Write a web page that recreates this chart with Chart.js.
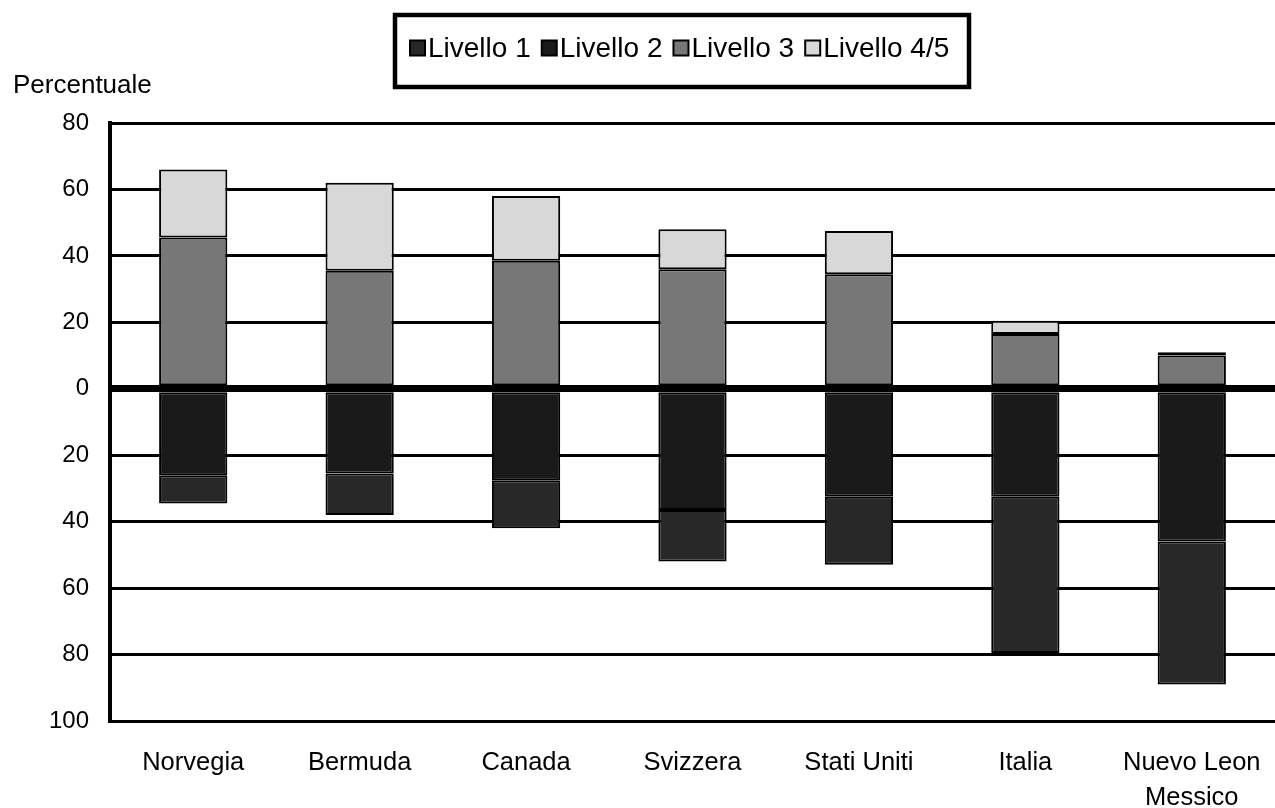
<!DOCTYPE html>
<html>
<head>
<meta charset="utf-8">
<script src="https://cdn.jsdelivr.net/npm/chart.js@4.4.1/dist/chart.umd.min.js"></script>
<style>
  html, body { margin: 0; padding: 0; background: #ffffff; }
  #wrap { width: 1275px; height: 808px; position: relative; }
</style>
</head>
<body>
<div id="wrap"><canvas id="chart" width="1275" height="808"></canvas></div>
<script>
// Countries along the horizontal axis
const categories = ['Norvegia', 'Bermuda', 'Canada', 'Svizzera', 'Stati Uniti', 'Italia', ['Nuevo Leon', 'Messico']];

// Percentages by proficiency level (levels 1 and 2 are drawn below zero)
const livello1 = [8.5, 12.5, 14.5, 15.5, 20.5, 47, 43];
const livello2 = [26, 25.5, 27.5, 36.5, 32.5, 32.5, 46];
const livello3 = [45.5, 35.5, 38.5, 36, 34.5, 16.5, 10];
const livello45 = [20.5, 26.5, 19.5, 12, 13, 4, 1];

const seriesNames = ['Livello 1', 'Livello 2', 'Livello 3', 'Livello 4/5'];
const seriesColors = ['#282828', '#1a1a1a', '#777777', '#d8d8d8'];

// Vertical axis: -100 .. 80, labelled with absolute values
const yMin = -100, yMax = 80, yStep = 20;

const FONT = '"Liberation Sans", Arial, Helvetica, sans-serif';

function barDataset(label, values, color, order, sign) {
  return {
    label: label,
    data: values.map(v => sign * v),
    backgroundColor: color,
    borderColor: '#000000',
    borderWidth: 2,
    borderSkipped: false,
    order: order,
    barPercentage: 0.41,
    categoryPercentage: 1.0
  };
}

// Stacking follows "order": level 2 sits next to zero, level 1 below it
const datasets = [
  barDataset(seriesNames[0], livello1, seriesColors[0], 2, -1),
  barDataset(seriesNames[1], livello2, seriesColors[1], 1, -1),
  barDataset(seriesNames[2], livello3, seriesColors[2], 3, 1),
  barDataset(seriesNames[3], livello45, seriesColors[3], 4, 1)
];

// Boxed legend and the axis caption
const decorations = {
  id: 'decorations',
  afterDraw(chart) {
    const ctx = chart.ctx;
    ctx.save();
    // axis caption
    ctx.fillStyle = '#000';
    ctx.font = '26px ' + FONT;
    ctx.textAlign = 'left';
    ctx.textBaseline = 'middle';
    ctx.fillText('Percentuale', 13, 86);

    // legend box
    const bx = 395, by = 15, bw = 574, bh = 72;
    ctx.lineWidth = 4.5;
    ctx.strokeStyle = '#000';
    ctx.strokeRect(bx, by, bw, bh);

    ctx.font = '28px ' + FONT;
    let x = 410;
    const cy = 48;
    seriesNames.forEach((name, i) => {
      const s = 15;
      ctx.fillStyle = seriesColors[i];
      ctx.fillRect(x, cy - s / 2, s, s);
      ctx.lineWidth = 2;
      ctx.strokeStyle = '#000';
      ctx.strokeRect(x, cy - s / 2, s, s);
      ctx.fillStyle = '#000';
      ctx.fillText(name, x + s + 3, cy + 1);
      x += s + 3 + ctx.measureText(name).width + 11;
    });
    ctx.restore();
  }
};

new Chart(document.getElementById('chart'), {
  type: 'bar',
  data: { labels: categories, datasets: datasets },
  options: {
    responsive: false,
    animation: false,
    events: [],
    layout: { padding: { top: 123, right: 0, bottom: 0, left: 0 } },
    plugins: {
      legend: { display: false },
      tooltip: { enabled: false }
    },
    scales: {
      x: {
        stacked: true,
        grid: { display: false, drawTicks: false },
        border: { display: false },
        ticks: {
          color: '#000',
          font: { family: FONT, size: 25.5, lineHeight: 1.35 },
          padding: 25,
          maxRotation: 0,
          autoSkip: false
        },
        afterFit(scale) {
          scale.height = 87;
          scale.paddingLeft = 0;
          scale.paddingRight = 0;
        }
      },
      y: {
        stacked: true,
        min: yMin,
        max: yMax,
        ticks: {
          stepSize: yStep,
          color: '#000',
          font: { family: FONT, size: 24 },
          padding: 21,
          callback: v => String(Math.abs(v))
        },
        grid: {
          color: '#000',
          drawTicks: false,
          lineWidth: c => (c.tick && c.tick.value === 0 ? 7 : 3)
        },
        border: { display: true, color: '#000', width: 4 },
        afterFit(scale) { scale.width = 110; }
      }
    }
  },
  plugins: [decorations]
});
</script>
</body>
</html>
